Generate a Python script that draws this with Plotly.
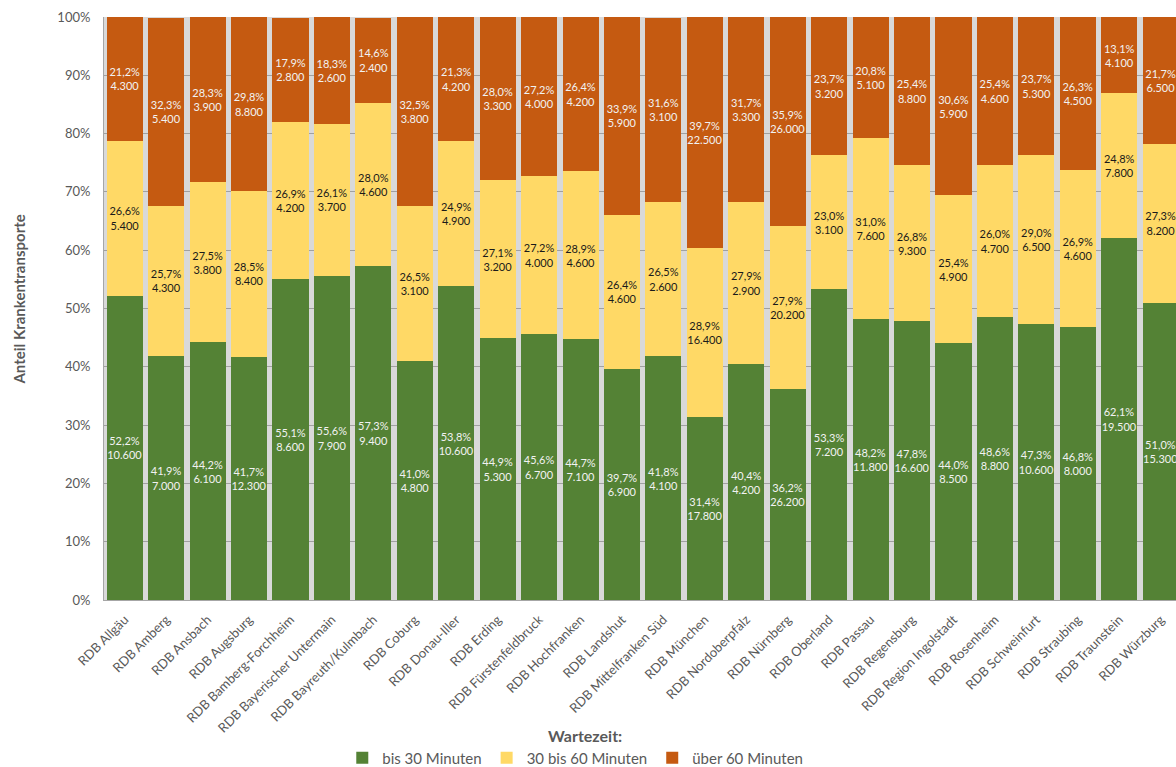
import plotly.graph_objects as go

FONT = "Lato, 'Open Sans', sans-serif"

regions = [
    "RDB Allgäu", "RDB Amberg", "RDB Ansbach", "RDB Augsburg", "RDB Bamberg-Forchheim",
    "RDB Bayerischer Untermain", "RDB Bayreuth/Kulmbach", "RDB Coburg", "RDB Donau-Iller",
    "RDB Erding", "RDB Fürstenfeldbruck", "RDB Hochfranken", "RDB Landshut",
    "RDB Mittelfranken Süd", "RDB München", "RDB Nordoberpfalz", "RDB Nürnberg",
    "RDB Oberland", "RDB Passau", "RDB Regensburg", "RDB Region Ingolstadt",
    "RDB Rosenheim", "RDB Schweinfurt", "RDB Straubing", "RDB Traunstein", "RDB Würzburg",
]

# Anteil in % und Anzahl Krankentransporte je Wartezeit-Klasse
pct_bis30 = [52.2, 41.9, 44.2, 41.7, 55.1, 55.6, 57.3, 41.0, 53.8, 44.9, 45.6, 44.7, 39.7,
             41.8, 31.4, 40.4, 36.2, 53.3, 48.2, 47.8, 44.0, 48.6, 47.3, 46.8, 62.1, 51.0]
n_bis30 = [10600, 7000, 6100, 12300, 8600, 7900, 9400, 4800, 10600, 5300, 6700, 7100, 6900,
           4100, 17800, 4200, 26200, 7200, 11800, 16600, 8500, 8800, 10600, 8000, 19500, 15300]

pct_30_60 = [26.6, 25.7, 27.5, 28.5, 26.9, 26.1, 28.0, 26.5, 24.9, 27.1, 27.2, 28.9, 26.4,
             26.5, 28.9, 27.9, 27.9, 23.0, 31.0, 26.8, 25.4, 26.0, 29.0, 26.9, 24.8, 27.3]
n_30_60 = [5400, 4300, 3800, 8400, 4200, 3700, 4600, 3100, 4900, 3200, 4000, 4600, 4600,
           2600, 16400, 2900, 20200, 3100, 7600, 9300, 4900, 4700, 6500, 4600, 7800, 8200]

pct_ueber60 = [21.2, 32.3, 28.3, 29.8, 17.9, 18.3, 14.6, 32.5, 21.3, 28.0, 27.2, 26.4, 33.9,
               31.6, 39.7, 31.7, 35.9, 23.7, 20.8, 25.4, 30.6, 25.4, 23.7, 26.3, 13.1, 21.7]
n_ueber60 = [4300, 5400, 3900, 8800, 2800, 2600, 2400, 3800, 4200, 3300, 4000, 4200, 5900,
             3100, 22500, 3300, 26000, 3200, 5100, 8800, 5900, 4600, 5300, 4500, 4100, 6500]

series = [
    ("bis 30 Minuten", pct_bis30, n_bis30, "#548235", "#F2F2F2"),
    ("30 bis 60 Minuten", pct_30_60, n_30_60, "#FFD966", "#1A1A1A"),
    ("über 60 Minuten", pct_ueber60, n_ueber60, "#C55A11", "#F2F2F2"),
]

fig = go.Figure()
for name, pct, n, color, txtcol in series:
    fig.add_trace(go.Bar(
        x=regions, y=[p / 100 for p in pct], customdata=n, name=name,
        marker=dict(color=color, line=dict(width=0)),
        texttemplate="%{y:.1%}<br>%{customdata:,}",
        textposition="inside", insidetextanchor="middle", textangle=0,
        constraintext="none",
        textfont=dict(family=FONT, size=11, color=txtcol),
    ))

L, R = 103.5, 1176
W = R - L
H = 767

def px_x(x):
    return (x - L) / W

def px_y(y):
    return (600 - y) / 583

fig.update_layout(
    width=1176, height=H,
    margin=dict(l=L, r=0, t=17, b=167),
    barmode="stack", bargap=0.13,
    separators=",.",
    paper_bgcolor="white", plot_bgcolor="#D9D9D9",
    font=dict(family=FONT, color="#595959"),
    showlegend=True,
    legend=dict(orientation="h", x=px_x(575), xanchor="center",
                yref="container", y=(H - 758) / H, yanchor="middle",
                font=dict(size=15, color="#595959"), traceorder="normal"),
    annotations=[
        dict(text="<b>Anteil Krankentransporte</b>", textangle=-90, xref="paper", yref="paper",
             x=px_x(18), y=px_y(300), xanchor="center", yanchor="middle", showarrow=False,
             font=dict(size=15, color="#595959")),
        dict(text="<b>Wartezeit:</b>", xref="paper", yref="paper",
             x=px_x(585), y=px_y(735), xanchor="center", yanchor="middle", showarrow=False,
             font=dict(size=16, color="#595959")),
    ],
)
fig.update_xaxes(range=[-0.5, 25.37], tickangle=-45, tickfont=dict(size=13, color="#595959"),
                 showline=True, linecolor="#A6A6A6", linewidth=1, showgrid=False,
                 ticks="", ticklabelstandoff=6, automargin=False)
fig.update_yaxes(range=[0, 1], tickvals=[i / 10 for i in range(11)], tickformat=".0%",
                 tickfont=dict(size=13, color="#595959"), showgrid=True, gridcolor="#A0A0A0",
                 gridwidth=1, zeroline=False, showline=True, linecolor="#A6A6A6",
                 ticks="", ticklabelstandoff=10, automargin=False)

# Seitenrand des Browsers entfernen, damit die Grafik bei (0,0) beginnt
fig.write_html("out.html", config={"displayModeBar": False},
               post_script="document.body.style.margin='0';")
